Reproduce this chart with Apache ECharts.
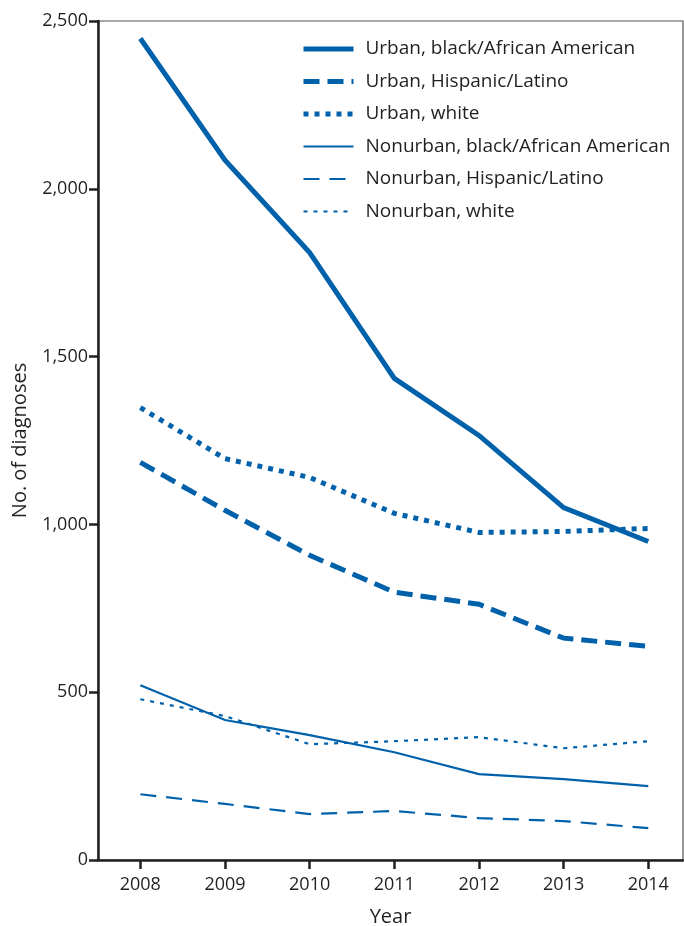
<!DOCTYPE html>
<html>
<head>
<meta charset="utf-8">
<script src="https://cdn.jsdelivr.net/npm/echarts@6/dist/echarts.min.js"></script>
<style>html,body{margin:0;padding:0;background:#fff}#c{width:684px;height:926px}</style>
</head>
<body>
<div id="c"></div>
<script>
const years = [2008, 2009, 2010, 2011, 2012, 2013, 2014];
const yTicks = [0, 500, 1000, 1500, 2000, 2500];
const seriesNames = [
  'Urban, black/African American',
  'Urban, Hispanic/Latino',
  'Urban, white',
  'Nonurban, black/African American',
  'Nonurban, Hispanic/Latino',
  'Nonurban, white'
];
const urbanBlack = [2448, 2085, 1810, 1435, 1265, 1050, 949];
const urbanHispanic = [1185, 1042, 908, 798, 762, 661, 637];
const urbanWhite = [1348, 1196, 1140, 1033, 976, 979, 988];
const nonurbanBlack = [521, 417, 372, 321, 256, 241, 220];
const nonurbanHispanic = [196, 167, 137, 146, 125, 116, 95];
const nonurbanWhite = [479, 429, 345, 354, 366, 333, 354];

const blue = '#0061ab';
const txt = '#231f20';
const font = 'Open Sans';

function mk(name, vals, width, type) {
  return {
    name, type: 'line', symbol: 'none', silent: true,
    data: years.map((y, i) => [y, vals[i]]),
    lineStyle: { color: blue, width, type, cap: 'butt', join: 'miter' },
    itemStyle: { color: blue },
    animation: false
  };
}

const chart = echarts.init(document.getElementById('c'), null, { renderer: 'canvas' });
chart.setOption({
  animation: false,
  grid: { left: 98, right: 1, top: 21, bottom: 66, outerBoundsMode: 'none', containLabel: false,
    show: true, borderColor: '#555', borderWidth: 1.2, backgroundColor: 'transparent' },
  legend: {
    orient: 'vertical', left: 296, top: 34, itemWidth: 50, itemHeight: 14, itemGap: 12.5,
    selectedMode: false,
    itemStyle: { opacity: 0, borderWidth: 0 },
    lineStyle: { width: 'inherit' },
    textStyle: { color: txt, fontFamily: font, fontSize: 19, lineHeight: 20, padding: [0, 0, 0, 7] },
    data: seriesNames
  },
  xAxis: {
    type: 'value', min: 2007.5, max: 2014.41,
    name: 'Year', nameLocation: 'middle', nameGap: 47,
    nameTextStyle: { color: txt, fontFamily: font, fontSize: 20 },
    axisLine: { show: true, onZero: false, lineStyle: { color: '#231f20', width: 2.5 } },
    axisTick: { show: true, length: 9, customValues: years, lineStyle: { color: '#231f20', width: 2.5 } },
    axisLabel: { customValues: years, color: txt, fontFamily: font, fontSize: 18, margin: 16, formatter: v => String(v) },
    splitLine: { show: false }
  },
  yAxis: {
    type: 'value', min: 0, max: 2500, interval: 500,
    name: 'No. of diagnoses', nameLocation: 'middle', nameGap: 68,
    nameTextStyle: { color: txt, fontFamily: font, fontSize: 20 },
    axisLine: { show: true, lineStyle: { color: '#231f20', width: 2.5 } },
    axisTick: { show: true, length: 9, lineStyle: { color: '#231f20', width: 2.5 } },
    axisLabel: { color: txt, fontFamily: font, fontSize: 18, margin: 10,
      formatter: v => v.toLocaleString('en-US') },
    splitLine: { show: false }
  },
  series: [
    mk(seriesNames[0], urbanBlack, 5, 'solid'),
    mk(seriesNames[1], urbanHispanic, 5, [16, 8]),
    mk(seriesNames[2], urbanWhite, 5, [5, 6]),
    mk(seriesNames[3], nonurbanBlack, 2.2, 'solid'),
    mk(seriesNames[4], nonurbanHispanic, 2.2, [16, 10]),
    mk(seriesNames[5], nonurbanWhite, 2.2, [4, 6])
  ]
});
</script>
</body>
</html>
